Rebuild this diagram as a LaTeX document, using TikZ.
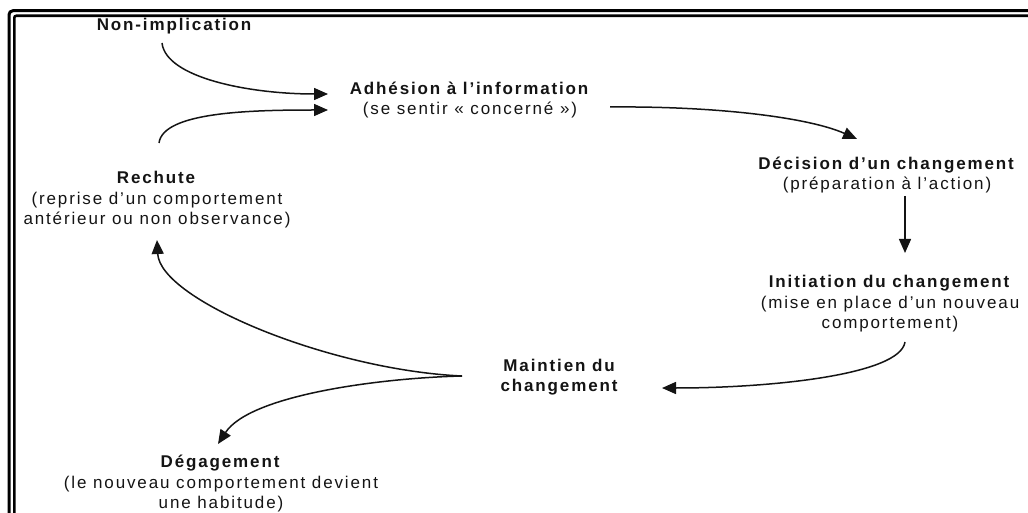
\documentclass[tikz,border=0pt]{standalone}
\usepackage{fontspec}
\setmainfont{Liberation Sans}[LetterSpace=11]
\usetikzlibrary{arrows.meta}
\definecolor{ink}{HTML}{141414}
\begin{document}
\begin{tikzpicture}[x=1pt,y=-1pt,
  lbl/.style={inner sep=0pt,align=center,text=ink,font=\fontsize{17}{20.5}\selectfont},
  conn/.style={line width=1.5pt,draw=ink,-{Triangle[length=14pt,width=12pt]}},
  frame/.style={draw=black}]
\useasboundingbox (0,0) rectangle (1028,513);
\clip (0,0) rectangle (1028,513);
\fill[white] (0,0) rectangle (1028,513);
% double border
\draw[frame,line width=3pt,rounded corners=4pt] (9,540) -- (9,10.7) -- (1045,10.7);
\draw[frame,line width=2.6pt,rounded corners=2pt] (14.3,540) -- (14.3,15.8) -- (1045,15.8);
% nodes
\node[lbl] (nonimp) at (175,26) {\textbf{Non-implication}};
\node[lbl] (adh) at (470,100) {\textbf{Adhésion à l’information}\\(se sentir « concerné »)};
\node[lbl] (dec) at (887,175) {\textbf{Décision d’un changement}\\(préparation à l’action)};
\node[lbl] (init) at (890,304) {\textbf{Initiation du changement}\\(mise en place d’un nouveau\\comportement)};
\node[lbl] (maint) at (560,377) {\textbf{Maintien du}\\\textbf{changement}};
\node[lbl] (rech) at (157,200) {\textbf{Rechute}\\(reprise d’un comportement\\antérieur ou non observance)};
\node[lbl] (deg) at (221,484) {\textbf{Dégagement}\\(le nouveau comportement devient\\une habitude)};
% connector end points
\coordinate (a1s) at ([shift={(-13,17)}]nonimp.center);
\coordinate (a1e) at ([shift={(-142,-6)}]adh.center);
\coordinate (a2s) at ([shift={(2,-57)}]rech.center);
\coordinate (a2e) at ([shift={(-142,10)}]adh.center);
\coordinate (a3s) at ([shift={(140,7)}]adh.center);
\coordinate (a3e) at ([shift={(-30,-36)}]dec.center);
\coordinate (a4s) at ([shift={(18,21)}]dec.center);
\coordinate (a4e) at ([shift={(15,-51)}]init.center);
\coordinate (a5s) at ([shift={(15,38)}]init.center);
\coordinate (a5e) at ([shift={(102,11)}]maint.center);
\coordinate (fork) at ([shift={(-98,-1)}]maint.center);
\coordinate (a6e) at ([shift={(0,40)}]rech.center);
\coordinate (a7e) at ([shift={(-3,-40)}]deg.center);
% connectors
\draw[conn] (a1s) .. controls (166,78) and (250,94) .. (a1e);
\draw[conn] (a2s) .. controls (163,112) and (250,110) .. (a2e);
\draw[conn] (a3s) .. controls (720,106) and (810,118) .. (a3e);
\draw[conn] (a4s) -- (a4e);
\draw[conn] (a5s) .. controls (900,375) and (770,388) .. (a5e);
\draw[conn] (fork) .. controls (330,370) and (160,300) .. (a6e);
\draw[conn] (fork) .. controls (380,378) and (250,395) .. (a7e);
\end{tikzpicture}
\end{document}
